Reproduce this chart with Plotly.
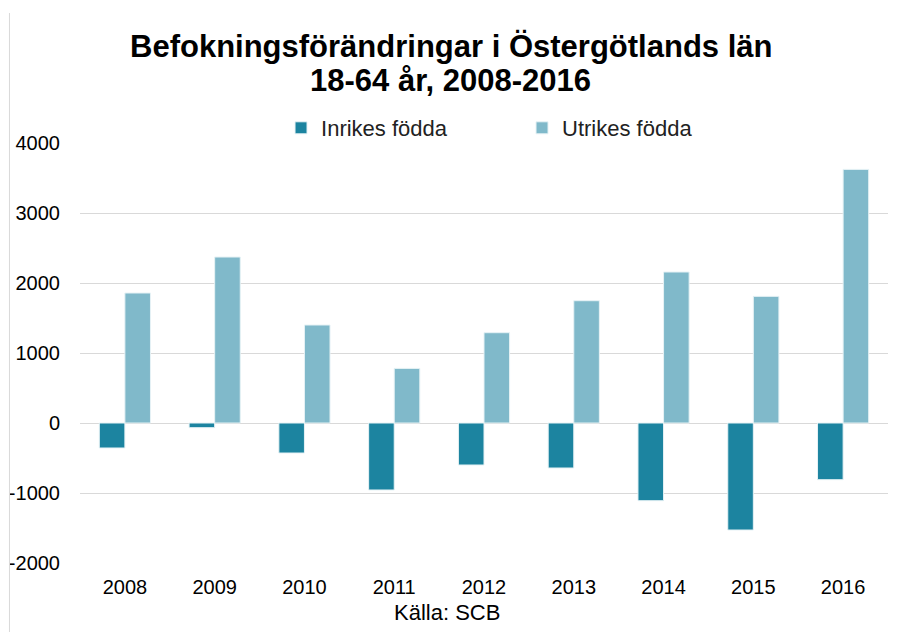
import plotly.graph_objects as go

years = ["2008", "2009", "2010", "2011", "2012", "2013", "2014", "2015", "2016"]
inrikes = [-357, -67, -429, -957, -600, -643, -1110, -1529, -810]
utrikes = [1857, 2371, 1400, 780, 1290, 1747, 2157, 1809, 3623]
series_names = ["Inrikes födda", "Utrikes födda"]
title_lines = ["Befokningsförändringar i Östergötlands län", "18-64 år, 2008-2016"]
source_text = "Källa: SCB"
y_ticks = [-2000, -1000, 0, 1000, 2000, 3000, 4000]
y_tick_labels = [str(v) for v in y_ticks]

FONT = "Liberation Sans, Arial, sans-serif"
C_IN = "#1c84a0"
C_UT = "#80b9ca"

fig = go.Figure()
fig.add_trace(go.Bar(x=years, y=inrikes, name=series_names[0],
                     marker=dict(color=C_IN, line=dict(color="#e6f2f5", width=1))))
fig.add_trace(go.Bar(x=years, y=utrikes, name=series_names[1],
                     marker=dict(color=C_UT, line=dict(color="#e6f2f5", width=1))))

# page has an 8px body margin, so the figure is 8px smaller and margins shifted
fig.update_layout(
    width=891, height=624,
    margin=dict(l=72, r=11, t=135, b=69),
    paper_bgcolor="white", plot_bgcolor="white",
    font=dict(family=FONT, size=20, color="black"),
    barmode="group", bargap=0.43, bargroupgap=0,
    showlegend=True,
    legend=dict(orientation="h", x=0.2488, xanchor="left", y=1.0357, yanchor="middle",
                font=dict(size=22, color="#222"), entrywidth=196, entrywidthmode="pixels",
                traceorder="normal", bgcolor="rgba(0,0,0,0)"),
)
fig.update_xaxes(showgrid=False, showline=False, zeroline=False, ticks="",
                 tickfont=dict(size=20), ticklabelstandoff=10, automargin=False)
fig.update_yaxes(range=[-2000, 4000], tickvals=y_ticks, ticktext=y_tick_labels, showgrid=True,
                 gridcolor="#d9d9d9", gridwidth=1, zeroline=True, zerolinecolor="#d9d9d9",
                 zerolinewidth=1, showline=False, ticks="", tickfont=dict(size=20),
                 ticklabelstandoff=19, automargin=False)

fig.add_annotation(text="<b>" + title_lines[0] + "</b>", xref="paper", yref="paper",
                   x=0.459, y=1.2286, xanchor="center", yanchor="middle", showarrow=False,
                   font=dict(size=31, color="black"))
fig.add_annotation(text="<b>" + title_lines[1] + "</b>", xref="paper", yref="paper",
                   x=0.459, y=1.15, xanchor="center", yanchor="middle", showarrow=False,
                   font=dict(size=31, color="black"))
fig.add_annotation(text=source_text, xref="paper", yref="paper",
                   x=0.454, y=-0.1167, xanchor="center", yanchor="middle", showarrow=False,
                   font=dict(size=22, color="black"))
fig.add_shape(type="line", xref="paper", yref="paper", x0=-0.0873, x1=-0.0873,
              y0=1.3095, y1=-0.2, line=dict(color="#d9d9d9", width=1))

fig.write_html("out.html")
